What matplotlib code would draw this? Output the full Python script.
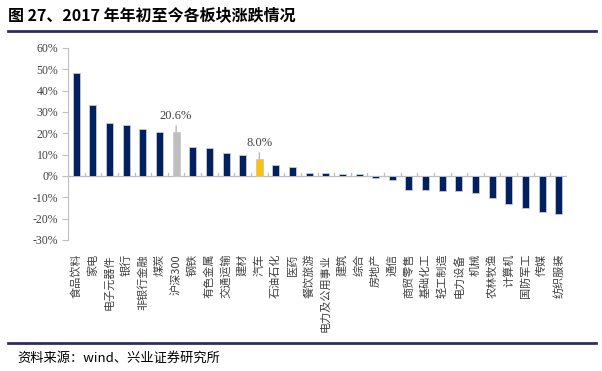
import matplotlib.pyplot as plt
from matplotlib.lines import Line2D

plt.rcParams['font.family'] = ['Noto Sans CJK SC', 'DejaVu Sans']

sectors = ['食品饮料', '家电', '电子元器件', '银行', '非银行金融', '煤炭', '沪深300',
           '钢铁', '有色金属', '交通运输', '建材', '汽车', '石油石化', '医药',
           '餐饮旅游', '电力及公用事业', '建筑', '综合', '房地产', '通信',
           '商贸零售', '基础化工', '轻工制造', '电力设备', '机械', '农林牧渔',
           '计算机', '国防军工', '传媒', '纺织服装']
change = [48.5, 33.5, 24.9, 23.9, 22.1, 20.8, 20.6,
          13.5, 13.3, 10.9, 10.0, 8.0, 5.0, 4.2,
          1.5, 1.2, 1.0, 1.0, -0.9, -1.7,
          -6.4, -6.6, -7.2, -7.2, -8.1, -10.2,
          -13.0, -14.9, -16.9, -17.8]
highlight = {'沪深300': '#BFBFBF', '汽车': '#FFC000'}

fig = plt.figure(figsize=(6.02, 3.71), dpi=100)
W, H = 602, 371
ax = fig.add_axes([68 / W, 1 - 240 / H, (567 - 68) / W, (240 - 48) / H])

colors = [highlight.get(s, '#002060') for s in sectors]
x = list(range(len(sectors)))
ax.bar(x, change, width=0.42, color=colors, edgecolor='#C8C8D0', linewidth=0.6, zorder=3)

ax.set_xlim(-0.5, len(sectors) - 0.5)
ax.set_ylim(-30, 60)
ax.set_yticks(range(-30, 61, 10))
ax.set_yticklabels([f'{v}%' for v in range(-30, 61, 10)],
                   fontfamily='Liberation Serif', fontsize=8.5, color='#404040')
ax.tick_params(axis='y', length=4, color='#BFBFBF', direction='out', pad=3)

for s in ['top', 'right', 'bottom']:
    ax.spines[s].set_visible(False)
ax.spines['left'].set_color('#BFBFBF')
ax.axhline(0, color='#BFBFBF', linewidth=0.9, zorder=2)
for b in range(len(sectors) + 1):
    ax.plot([b - 0.5, b - 0.5], [0, 1.6], color='#BFBFBF', linewidth=0.9, zorder=2)

ax.set_xticks([])
for i, s in enumerate(sectors):
    ax.annotate(s, xy=(i, 0), xycoords=('data', 'axes fraction'),
                xytext=(0, -10), textcoords='offset points',
                rotation=90, ha='center', va='top', fontsize=8, color='#404040')

for s in highlight:
    i = sectors.index(s)
    v = change[i]
    ax.annotate(f'{v:.1f}%', xy=(i, v), xytext=(0, 7), textcoords='offset points',
                ha='center', va='bottom', fontsize=9, color='#404040',
                fontfamily='Liberation Serif',
                arrowprops=dict(arrowstyle='-', color='#A6A6A6', lw=0.8,
                                shrinkA=0.5, shrinkB=0))

fig.text(8 / W, 1 - 15 / H, '图 27、2017 年年初至今各板块涨跌情况',
         fontsize=11.5, fontweight='bold', va='center', ha='left', color='#000000')
fig.add_artist(Line2D([8 / W, 596 / W], [1 - 31 / H, 1 - 31 / H],
                      color='#2F2F5F', linewidth=2, transform=fig.transFigure))
fig.add_artist(Line2D([8 / W, 596 / W], [1 - 343 / H, 1 - 343 / H],
                      color='#2F2F5F', linewidth=2, transform=fig.transFigure))
fig.text(17 / W, 1 - 358 / H, '资料来源：wind、兴业证券研究所',
         fontsize=9.5, va='center', ha='left', color='#000000')

fig.savefig('out.png', dpi=100)
